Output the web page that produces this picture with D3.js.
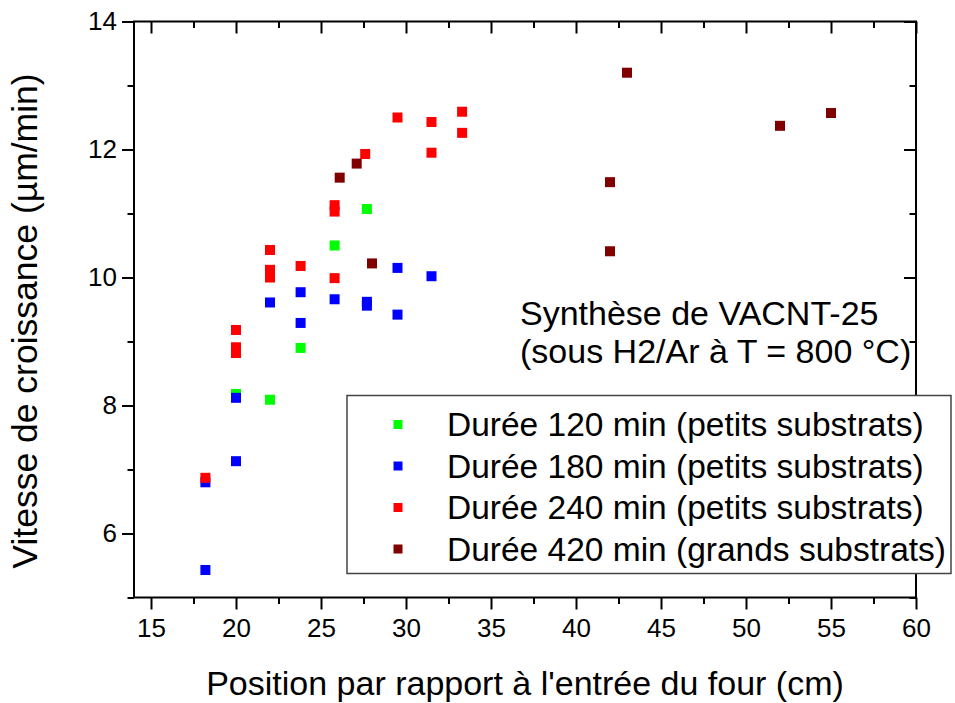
<!DOCTYPE html>
<html>
<head>
<meta charset="utf-8">
<script src="https://cdn.jsdelivr.net/npm/d3@7/dist/d3.min.js"></script>
<style>
  html, body { margin: 0; padding: 0; background: #fff; }
  svg text { font-family: "Liberation Sans", Arial, sans-serif; fill: #000; }
</style>
</head>
<body>
<svg id="chart" width="955" height="703"></svg>
<script>
// Growth rate of VACNT-25 versus position in the furnace, one array per run duration
const series120 = [[20.0, 8.18], [22.0, 8.09], [23.8, 8.90], [25.8, 10.50], [27.7, 11.07]];
const series180 = [[18.2, 5.43], [18.2, 6.80], [20.0, 7.13], [20.0, 8.12], [22.0, 9.61],
                   [23.8, 9.77], [23.8, 9.29], [25.8, 9.66], [27.7, 9.62], [27.7, 9.56],
                   [29.5, 9.42], [29.5, 10.15], [31.5, 10.02]];
const series240 = [[18.2, 6.87], [20.0, 9.18], [20.0, 8.91], [20.0, 8.82], [22.0, 10.43],
                   [22.0, 10.12], [22.0, 10.00], [23.8, 10.18], [25.8, 11.13], [25.8, 11.03],
                   [25.8, 9.99], [27.6, 11.93], [29.5, 12.50], [31.5, 12.43], [31.5, 11.95],
                   [33.3, 12.59], [33.3, 12.26]];
const series420 = [[26.1, 11.56], [27.1, 11.78], [28.0, 10.22], [42.0, 11.49], [42.0, 10.41],
                   [43.0, 13.20], [52.0, 12.37], [55.0, 12.57]];

const seriesLabels = ["Durée 120 min (petits substrats)", "Durée 180 min (petits substrats)",
                      "Durée 240 min (petits substrats)", "Durée 420 min (grands substrats)"];
const seriesColors = ["#00ff00", "#0000ff", "#ff0000", "#800000"];
const allSeries = [series120, series180, series240, series420];

const xMajorTicks = [15, 20, 25, 30, 35, 40, 45, 50, 55, 60];
const xMinorTicks = [17.5, 22.5, 27.5, 32.5, 37.5, 42.5, 47.5, 52.5, 57.5];
const yMajorTicks = [6, 8, 10, 12, 14];
const yMinorTicks = [5, 7, 9, 11, 13];

const xTitle = "Position par rapport à l'entrée du four (cm)";
const yTitle = "Vitesse de croissance (µm/min)";
const noteLines = ["Synthèse de VACNT-25", "(sous H2/Ar à T = 800 °C)"];

const svg = d3.select("#chart");
const plotLeft = 134, plotRight = 916, plotTop = 21.5, plotBottom = 597.5;

const x = d3.scaleLinear().domain([14, 60]).range([plotLeft, plotRight]);
const y = d3.scaleLinear().domain([5, 14]).range([plotBottom, plotTop]);

const major = 12, minor = 6.5;

function styleAxis(g) {
  g.select(".domain").remove();
  g.selectAll(".tick line").attr("stroke", "#000").attr("stroke-width", 2);
}

// bottom axis with labels
svg.append("g").attr("transform", `translate(0,${plotBottom})`)
  .call(d3.axisBottom(x).tickValues(xMajorTicks).tickSize(major).tickSizeOuter(0).tickPadding(8)
    .tickFormat(d3.format("d")))
  .call(styleAxis)
  .call(g => g.selectAll(".tick text").attr("font-size", 26).attr("dy", "0.75em")
    .style("font-family", "'Liberation Sans', Arial, sans-serif"));
svg.append("g").attr("transform", `translate(0,${plotBottom})`)
  .call(d3.axisBottom(x).tickValues(xMinorTicks).tickSize(minor).tickFormat(""))
  .call(styleAxis);

// top axis, ticks pointing inward
svg.append("g").attr("transform", `translate(0,${plotTop})`)
  .call(d3.axisBottom(x).tickValues(xMajorTicks).tickSize(major).tickFormat(""))
  .call(styleAxis);
svg.append("g").attr("transform", `translate(0,${plotTop})`)
  .call(d3.axisBottom(x).tickValues(xMinorTicks).tickSize(minor).tickFormat(""))
  .call(styleAxis);

// left axis with labels
svg.append("g").attr("transform", `translate(${plotLeft},0)`)
  .call(d3.axisLeft(y).tickValues(yMajorTicks).tickSize(major).tickPadding(5)
    .tickFormat(d3.format("d")))
  .call(styleAxis)
  .call(g => g.selectAll(".tick text").attr("font-size", 26)
    .style("font-family", "'Liberation Sans', Arial, sans-serif"));
svg.append("g").attr("transform", `translate(${plotLeft},0)`)
  .call(d3.axisLeft(y).tickValues(yMinorTicks).tickSize(minor).tickFormat(""))
  .call(styleAxis);

// right axis, ticks pointing inward
svg.append("g").attr("transform", `translate(${plotRight},0)`)
  .call(d3.axisLeft(y).tickValues(yMajorTicks).tickSize(major).tickFormat(""))
  .call(styleAxis);
svg.append("g").attr("transform", `translate(${plotRight},0)`)
  .call(d3.axisLeft(y).tickValues(yMinorTicks).tickSize(minor).tickFormat(""))
  .call(styleAxis);

// frame
svg.append("rect")
  .attr("x", plotLeft).attr("y", plotTop)
  .attr("width", plotRight - plotLeft).attr("height", plotBottom - plotTop)
  .attr("fill", "none").attr("stroke", "#000").attr("stroke-width", 2);

// data squares
const sq = 10;
allSeries.forEach((data, i) => {
  svg.append("g").selectAll("rect").data(data).join("rect")
    .attr("x", d => x(d[0]) - sq / 2)
    .attr("y", d => y(d[1]) - sq / 2)
    .attr("width", sq).attr("height", sq)
    .attr("fill", seriesColors[i]);
});

// annotation
svg.append("text")
  .attr("font-size", 34)
  .selectAll("tspan").data(noteLines).join("tspan")
  .attr("x", 520).attr("y", (d, i) => 325 + i * 38)
  .text(d => d);

// legend
const lg = svg.append("g");
lg.append("rect")
  .attr("x", 347).attr("y", 395.5).attr("width", 604).attr("height", 178)
  .attr("fill", "#fff").attr("stroke", "#444").attr("stroke-width", 1.5);
const rowY = [424.5, 466, 507.5, 549];
seriesLabels.forEach((lab, i) => {
  lg.append("rect")
    .attr("x", 398 - 4.5).attr("y", rowY[i] - 4.5)
    .attr("width", 9).attr("height", 9)
    .attr("fill", seriesColors[i]);
  lg.append("text")
    .attr("x", 447).attr("y", rowY[i] + 11.8)
    .attr("font-size", 33.5)
    .text(lab);
});

// axis titles
svg.append("text")
  .attr("x", (plotLeft + plotRight) / 2).attr("y", 695)
  .attr("text-anchor", "middle").attr("font-size", 34)
  .text(xTitle);
svg.append("text")
  .attr("transform", "translate(37,321) rotate(-90)")
  .attr("text-anchor", "middle").attr("font-size", 35.5)
  .text(yTitle);
</script>
</body>
</html>
